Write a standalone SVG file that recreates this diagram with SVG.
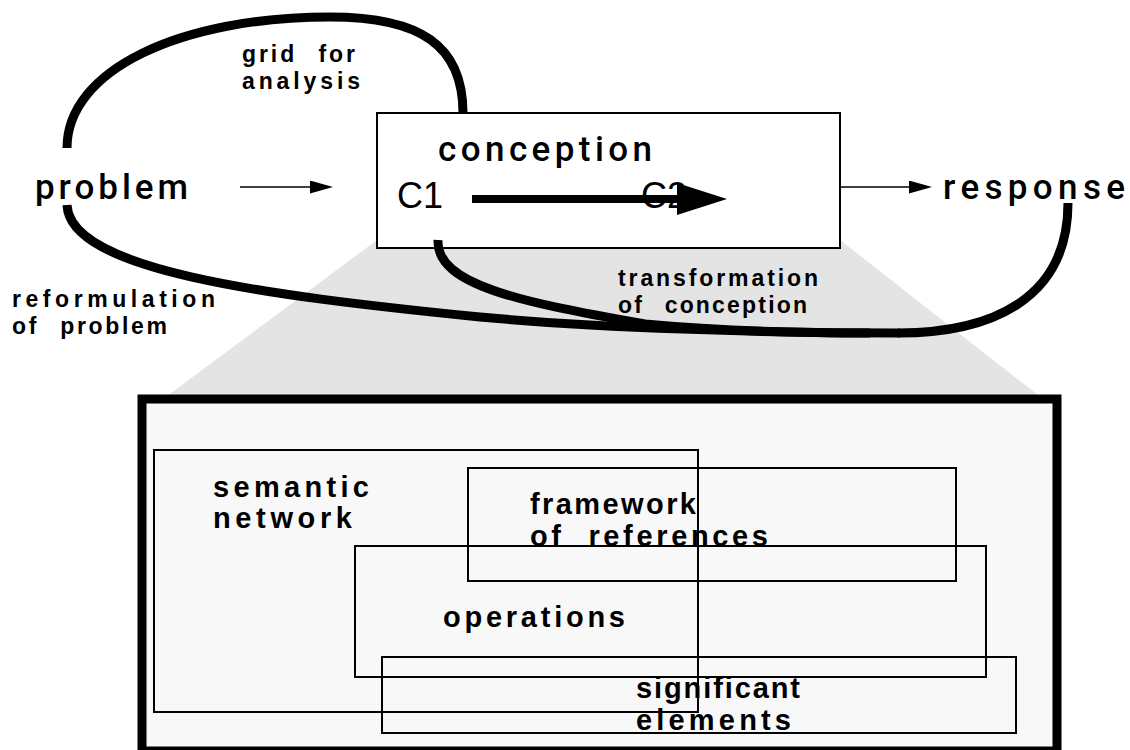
<svg xmlns="http://www.w3.org/2000/svg" width="1130" height="750" viewBox="0 0 1130 750">
  <defs>
    <style>
      .big { font-family: Roboto, "Liberation Sans", Arial, sans-serif; font-size: 35px; font-weight: 500; fill: #000; }
      .lbl { font-family: "Liberation Sans", Arial, sans-serif; font-size: 23px; font-weight: bold; fill: #000; }
      .inner { font-family: "Liberation Sans", Arial, sans-serif; font-size: 29px; font-weight: bold; fill: #000; }
      .cc { font-family: "Liberation Sans", Arial, sans-serif; font-size: 36px; fill: #000; }
      .wide { word-spacing: 12px; }
      .flow { fill: none; stroke: #000; stroke-width: 9; stroke-linecap: butt; }
      .thin { stroke: #000; stroke-width: 1.6; fill: none; }
      .box { fill: none; stroke: #000; stroke-width: 2; }
    </style>
    <marker id="headSmall" markerUnits="userSpaceOnUse" markerWidth="24" markerHeight="14" refX="15" refY="6.5" orient="auto">
      <path d="M0,0 L23,6.5 L0,13 Z" fill="#000"/>
    </marker>
    <marker id="headBig" markerUnits="userSpaceOnUse" markerWidth="52" markerHeight="34" refX="12" refY="16" orient="auto">
      <path d="M0,0 L50,16 L0,32 Z" fill="#000"/>
    </marker>
  </defs>

  <rect width="1130" height="750" fill="#fff"/>

  <!-- zoom wedge from the conception box down to the detail panel -->
  <polygon points="377,240 840,240 1043,399 163,399" fill="#e4e4e4"/>

  <!-- detail panel -->
  <g id="detail-panel">
    <rect x="142" y="399" width="915" height="352" fill="#f8f8f8" stroke="#000" stroke-width="9"/>
  </g>

  <g id="semantic-network">
    <rect class="box" x="154" y="450" width="544" height="262"/>
    <text class="inner" x="213" y="497" textLength="156" lengthAdjust="spacing">semantic</text>
    <text class="inner" x="213" y="528" textLength="139" lengthAdjust="spacing">network</text>
  </g>

  <g id="framework-of-references">
    <rect class="box" x="468" y="468" width="488" height="113"/>
    <text class="inner" x="530" y="514" textLength="166" lengthAdjust="spacing">framework</text>
    <text class="inner wide" x="530" y="546" textLength="238" lengthAdjust="spacing">of references</text>
  </g>

  <g id="operations">
    <rect class="box" x="355" y="546" width="631" height="131"/>
    <text class="inner" x="443" y="627" textLength="182" lengthAdjust="spacing">operations</text>
  </g>

  <g id="significant-elements">
    <rect class="box" x="382" y="657" width="634" height="76"/>
    <text class="inner" x="636" y="698" textLength="164" lengthAdjust="spacing">significant</text>
    <text class="inner" x="636" y="730" textLength="155" lengthAdjust="spacing">elements</text>
  </g>

  <!-- top row -->
  <g id="problem">
    <text class="big" x="35" y="199" textLength="153" lengthAdjust="spacing">problem</text>
  </g>

  <g id="conception">
    <rect x="377" y="113" width="463" height="135" fill="#fff" stroke="#000" stroke-width="2"/>
    <text class="big" x="438" y="161" textLength="214" lengthAdjust="spacing">conception</text>
    <text class="cc" x="397" y="208">C1</text>
    <text class="cc" x="641" y="208">C2</text>
  </g>

  <g id="response">
    <text class="big" x="943" y="199" textLength="182" lengthAdjust="spacing">response</text>
  </g>

  <!-- edge labels -->
  <g id="edge-labels">
    <text class="lbl wide" x="242" y="62" textLength="113" lengthAdjust="spacing">grid for</text>
    <text class="lbl" x="242" y="89" textLength="118" lengthAdjust="spacing">analysis</text>
    <text class="lbl" x="12" y="307" textLength="203" lengthAdjust="spacing">reformulation</text>
    <text class="lbl wide" x="12" y="334" textLength="155" lengthAdjust="spacing">of problem</text>
    <text class="lbl" x="618" y="286" textLength="200" lengthAdjust="spacing">transformation</text>
    <text class="lbl wide" x="618" y="313" textLength="189" lengthAdjust="spacing">of conception</text>
  </g>

  <!-- connectors -->
  <g id="connectors">
    <line class="thin" x1="240" y1="187" x2="325" y2="187" marker-end="url(#headSmall)"/>
    <line class="thin" x1="841" y1="187" x2="924" y2="187" marker-end="url(#headSmall)"/>
    <line x1="472" y1="199" x2="689" y2="199" stroke="#000" stroke-width="8" marker-end="url(#headBig)"/>
    <!-- grid for analysis: problem back into conception -->
    <path class="flow" d="M67,148 C67,70 180,17 330,17 C420,17 463,45 463,113"/>
    <!-- reformulation of problem -->
    <path class="flow" d="M67,205 C70,270 260,295 480,317 C600,328 760,333 900,333"/>
    <!-- transformation of conception -->
    <path class="flow" d="M438,240 C436,285 520,302 645,324 C720,331 800,333 870,333"/>
    <!-- response loops back -->
    <path class="flow" d="M1068,203 C1068,300 990,333 898,333"/>
  </g>
</svg>
